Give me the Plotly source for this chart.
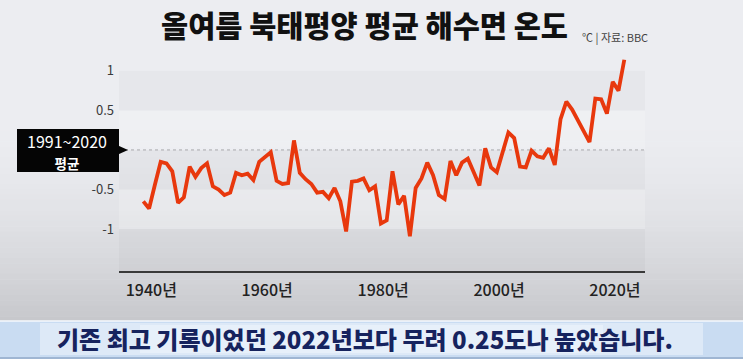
import plotly.graph_objects as go

# ---- data ----
years = list(range(1940, 2024))
anomaly = [
    -0.65, -0.74, -0.44, -0.15, -0.17, -0.27, -0.67, -0.60, -0.21, -0.34,
    -0.23, -0.17, -0.46, -0.50, -0.57, -0.54, -0.29, -0.32, -0.30, -0.38,
    -0.15, -0.09, -0.03, -0.39, -0.43, -0.42, 0.12, -0.29, -0.37, -0.43,
    -0.54, -0.53, -0.61, -0.48, -0.65, -1.03, -0.40, -0.39, -0.36, -0.51,
    -0.46, -0.93, -0.89, -0.27, -0.69, -0.58, -1.09, -0.48, -0.36, -0.16,
    -0.32, -0.57, -0.62, -0.14, -0.32, -0.16, -0.11, -0.28, -0.45, 0.02,
    -0.22, -0.28, -0.03, 0.22, 0.15, -0.21, -0.22, -0.01, -0.08, -0.10,
    0.02, -0.19, 0.39, 0.61, 0.51, 0.37, 0.24, 0.10, 0.65, 0.64,
    0.46, 0.86, 0.75, 1.14,
]
x_tick_vals = [1940, 1960, 1980, 2000, 2020]
x_tick_text = ["1940년", "1960년", "1980년", "2000년", "2020년"]
y_tick_vals = [-1, -0.5, 0.5, 1]
y_tick_text = ["-1", "-0.5", "0.5", "1"]
band_edges = [-1.53, -1.0, -0.5, 0.0, 0.5, 1.0]

title_text = "올여름 북태평양 평균 해수면 온도"
source_text = "℃ | 자료: BBC"
baseline_top = "1991~2020"
baseline_bottom = "평균"
caption_text = "기존 최고 기록이었던 2022년보다 무려 0.25도나 높았습니다."

FONT = "Noto Sans CJK KR"
W, H = 743, 359
L, R, T, B = 119, 98, 55, 88
PW, PH = W - L - R, H - T - B


def px(xp):
    return (xp - L) / PW


def py(yp):
    return (H - B - yp) / PH


fig = go.Figure()
fig.add_trace(go.Scatter(
    x=years, y=anomaly, mode="lines",
    line=dict(color="#e8380d", width=3.8),
    hoverinfo="skip", showlegend=False,
))

shapes = []
# background vertical gradient
top_c = (236, 237, 241)
bot_c = (198, 199, 203)
y_start, y_end = 110, 322
n = 40
for i in range(n):
    a = y_start + (y_end - y_start) * i / n
    b = y_start + (y_end - y_start) * (i + 1) / n
    t = ((i + 0.5) / n) ** 1.8
    c = tuple(int(round(top_c[k] + (bot_c[k] - top_c[k]) * t)) for k in range(3))
    shapes.append(dict(type="rect", xref="paper", yref="paper",
                       x0=px(0), x1=px(W), y0=py(b), y1=py(a) + 0.002,
                       fillcolor="rgb(%d,%d,%d)" % c, line=dict(width=0), layer="below"))

# alternating bands inside the plot
for i in range(len(band_edges) - 1):
    dark = (i % 2 == 0)
    shapes.append(dict(type="rect", xref="paper", yref="y",
                       x0=0, x1=1, y0=band_edges[i], y1=band_edges[i + 1],
                       fillcolor="rgba(0,0,0,0.022)" if dark else "rgba(255,255,255,0.18)",
                       line=dict(width=0), layer="below"))

# dotted baseline at 0
shapes.append(dict(type="line", xref="paper", yref="y", x0=0, x1=1, y0=0, y1=0,
                   line=dict(color="#a8a8ac", width=1, dash="dot"), layer="below"))

# black callout box with pointer
shapes.append(dict(type="rect", xref="paper", yref="paper",
                   x0=px(17), x1=px(119), y0=py(172), y1=py(129),
                   fillcolor="#050505", line=dict(width=0)))
shapes.append(dict(type="path", xref="paper", yref="paper",
                   path="M %f,%f L %f,%f L %f,%f Z" % (px(118), py(145.5), px(128), py(150),
                                                       px(118), py(154.5)),
                   fillcolor="#050505", line=dict(width=0)))

# bottom caption banner
shapes.append(dict(type="rect", xref="paper", yref="paper",
                   x0=px(0), x1=px(W), y0=py(357), y1=py(321),
                   fillcolor="#c9dcf2", line=dict(width=0)))
shapes.append(dict(type="rect", xref="paper", yref="paper",
                   x0=px(40), x1=px(703), y0=py(355), y1=py(323),
                   fillcolor="#dde9f7", line=dict(width=0)))
shapes.append(dict(type="rect", xref="paper", yref="paper",
                   x0=px(140), x1=px(603), y0=py(353), y1=py(325),
                   fillcolor="#e7f0fa", line=dict(width=0)))
shapes.append(dict(type="line", xref="paper", yref="paper",
                   x0=px(0), x1=px(W), y0=py(321), y1=py(321),
                   line=dict(color="#f4f8fd", width=1.5)))
shapes.append(dict(type="rect", xref="paper", yref="paper",
                   x0=px(0), x1=px(W), y0=py(359), y1=py(357),
                   fillcolor="#9fb6d3", line=dict(width=0)))

callout_text = (baseline_top + "<br><span style='font-size:13.5px'><b>"
                + baseline_bottom + "</b></span>")

annotations = [
    dict(text=title_text, x=px(364), y=py(24), xref="paper", yref="paper",
         xanchor="center", yanchor="middle", showarrow=False,
         font=dict(family=FONT, size=29.5, color="#111111", weight=900)),
    dict(text=source_text, x=px(580), y=py(37), xref="paper", yref="paper",
         xanchor="left", yanchor="middle", showarrow=False,
         font=dict(family=FONT, size=11, color="#444444")),
    dict(text=callout_text, x=px(67), y=py(150.5), xref="paper", yref="paper",
         xanchor="center", yanchor="middle", showarrow=False, align="center",
         font=dict(family=FONT, size=16, color="#ffffff")),
    dict(text=caption_text, x=px(365), y=py(338), xref="paper", yref="paper",
         xanchor="center", yanchor="middle", showarrow=False,
         font=dict(family=FONT, size=24, color="#16235e", weight=900)),
]

x0_year = 1940 - (143.3 - L) / 5.795
x1_year = 2023 + (L + PW - 624.3) / 5.795

fig.update_layout(
    width=W, height=H, autosize=False,
    margin=dict(l=L, r=R, t=T, b=B, pad=0),
    paper_bgcolor="rgb(236,237,241)", plot_bgcolor="rgba(0,0,0,0)",
    shapes=shapes, annotations=annotations,
    xaxis=dict(range=[x0_year, x1_year], tickmode="array",
               tickvals=x_tick_vals, ticktext=x_tick_text,
               showgrid=False, zeroline=False, showline=True,
               linecolor="#3a3a3a", linewidth=2, ticks="",
               ticklabelshift=8, ticklabelstandoff=4,
               tickfont=dict(family=FONT, size=16, color="#222222", weight=500),
               fixedrange=True),
    yaxis=dict(range=[-1.53, 1.2], tickmode="array",
               tickvals=y_tick_vals, ticktext=y_tick_text,
               showgrid=False, zeroline=False, showline=False, ticks="",
               ticklabelstandoff=4,
               tickfont=dict(family=FONT, size=13, color="#3a3a3a"),
               fixedrange=True),
    font=dict(family=FONT),
)

fig.write_html("out.html", config={"displayModeBar": False})
